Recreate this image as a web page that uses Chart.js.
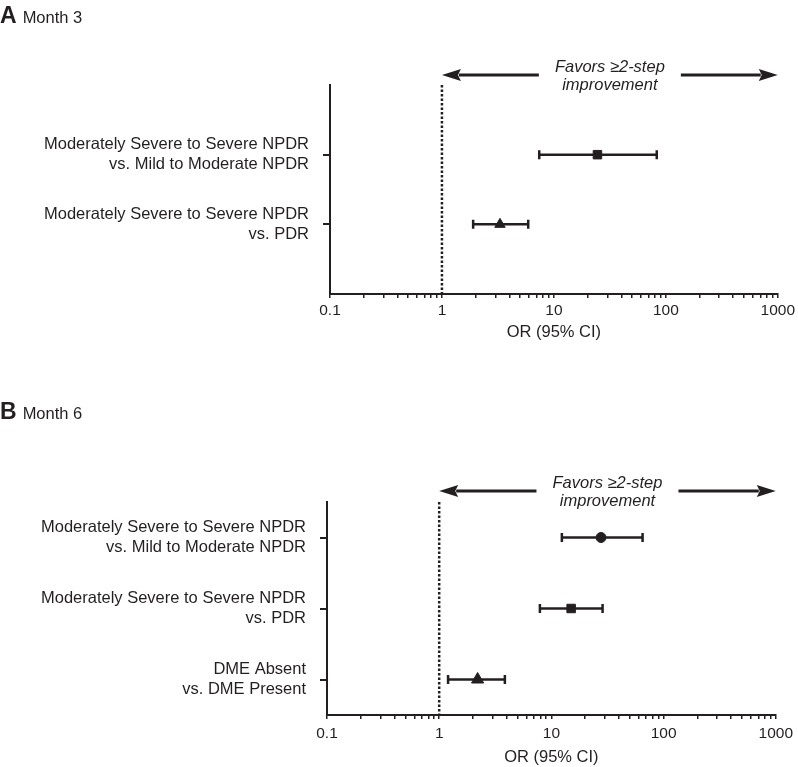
<!DOCTYPE html>
<html>
<head>
<meta charset="utf-8">
<script src="https://cdn.jsdelivr.net/npm/chart.js@4"></script>
<style>
  body { margin: 0; background: #fff; font-family: "Liberation Sans", Arial, sans-serif; color: #231f20; }
  #page { position: relative; width: 798px; height: 767px; overflow: hidden; }
  .box { position: absolute; left: 0; width: 798px; }
  .head { position: absolute; left: 0; font-size: 16.5px; line-height: 24px; white-space: nowrap; }
  .head b { font-size: 23px; margin-right: 6px; }
</style>
</head>
<body>
<div id="page">
  <div class="box" style="top:0;height:345px"><canvas id="chartA"></canvas></div>
  <div class="box" style="top:400px;height:367px"><canvas id="chartB"></canvas></div>
  <div class="head" style="top:3px"><b>A</b>Month 3</div>
  <div class="head" style="top:399px"><b>B</b>Month 6</div>
</div>
<script>
// axis ticks and texts
const xTicks = [0.1, 1, 10, 100, 1000];
const xTitle = 'OR (95% CI)';
const favorsText = ['Favors \u22652-step', 'improvement'];

// Month 3
const month3Labels = [
  ['Moderately Severe to Severe NPDR', 'vs. Mild to Moderate NPDR'],
  ['Moderately Severe to Severe NPDR', 'vs. PDR']
];
const month3OR = [24.5, 3.3];
const month3Low = [7.4, 1.9];
const month3High = [83, 5.9];
const month3Markers = ['rect', 'triangle'];

// Month 6
const month6Labels = [
  ['Moderately Severe to Severe NPDR', 'vs. Mild to Moderate NPDR'],
  ['Moderately Severe to Severe NPDR', 'vs. PDR'],
  ['DME Absent', 'vs. DME Present']
];
const month6OR = [27.7, 15.0, 2.2];
const month6Low = [12.4, 7.9, 1.2];
const month6High = [65, 28.6, 3.85];
const month6Markers = ['circle', 'rect', 'triangle'];

const ink = '#231f20';
const font = '"Liberation Sans", Arial, sans-serif';

// arrow with "Favors" text above the plot
const favorsArrow = {
  id: 'favorsArrow',
  afterDraw(chart, args, opts) {
    const { ctx, chartArea } = chart;
    const x = chart.scales.x;
    const y = chartArea.top - opts.offset;
    const x0 = x.getPixelForValue(1);
    const x1 = x.getPixelForValue(x.max);
    const mid = (x0 + x1) / 2;
    const gap = 71, head = 19, half = 6;
    ctx.save();
    ctx.strokeStyle = ink;
    ctx.fillStyle = ink;
    ctx.lineWidth = 3;
    ctx.beginPath();
    ctx.moveTo(x0 + head - 2, y);
    ctx.lineTo(mid - gap, y);
    ctx.moveTo(mid + gap, y);
    ctx.lineTo(x1 - head + 2, y);
    ctx.stroke();
    ctx.beginPath();
    ctx.moveTo(x0, y);
    ctx.lineTo(x0 + head, y - half);
    ctx.lineTo(x0 + head - 3, y);
    ctx.lineTo(x0 + head, y + half);
    ctx.closePath();
    ctx.moveTo(x1, y);
    ctx.lineTo(x1 - head, y - half);
    ctx.lineTo(x1 - head + 3, y);
    ctx.lineTo(x1 - head, y + half);
    ctx.closePath();
    ctx.fill();
    ctx.font = 'italic 16.5px ' + font;
    ctx.textAlign = 'center';
    ctx.textBaseline = 'middle';
    ctx.fillText(favorsText[0], mid, y - 8);
    ctx.fillText(favorsText[1], mid, y + 10);
    ctx.restore();
  }
};

function decadeTicks() {
  const out = [];
  for (let i = 0; i < xTicks.length; i++) {
    out.push({ value: xTicks[i], major: true });
    if (i < xTicks.length - 1) {
      for (let k = 2; k <= 9; k++) out.push({ value: xTicks[i] * k });
    }
  }
  return out;
}

function makeForest(id, labels, or, low, high, markers, lay) {
  const rows = labels.map((_, i) => i + 1);
  const datasets = [];
  // reference line at OR = 1
  datasets.push({
    data: [{ x: 1, y: lay.yMin }, { x: 1, y: lay.yMax }],
    showLine: true,
    borderColor: ink,
    borderWidth: 2.5,
    borderDash: [2.5, 2],
    pointRadius: 0
  });
  // confidence intervals
  rows.forEach((r, i) => {
    datasets.push({
      data: [{ x: low[i], y: r }, { x: high[i], y: r }],
      showLine: true,
      borderColor: ink,
      borderWidth: 2.5,
      pointStyle: 'line',
      rotation: 90,
      pointRadius: 4.5,
      pointBorderWidth: 2.5,
      pointBorderColor: ink
    });
  });
  // point estimates
  datasets.push({
    data: or.map((v, i) => ({ x: v, y: rows[i] })),
    pointStyle: markers,
    pointRadius: markers.map(m => m === 'rect' ? 6 : m === 'triangle' ? lay.tri : 5),
    backgroundColor: ink,
    borderColor: ink,
    borderWidth: 1
  });

  return new Chart(document.getElementById(id), {
    type: 'scatter',
    data: { datasets },
    plugins: [favorsArrow],
    options: {
      responsive: true,
      maintainAspectRatio: false,
      animation: false,
      layout: { padding: { top: lay.top, right: 20, left: 0, bottom: 0 } },
      plugins: {
        legend: { display: false },
        tooltip: { enabled: false },
        favorsArrow: { offset: lay.arrow }
      },
      scales: {
        x: {
          type: 'logarithmic',
          min: xTicks[0],
          max: xTicks[xTicks.length - 1],
          afterBuildTicks: axis => { axis.ticks = decadeTicks(); },
          afterFit: axis => { axis.height = lay.xH; },
          ticks: {
            autoSkip: false,
            maxRotation: 0,
            padding: lay.tickPad,
            color: ink,
            font: { family: font, size: 15.5 },
            callback: (v, i, t) => t[i].major ? String(v) : ''
          },
          grid: { drawOnChartArea: false, drawTicks: true, tickLength: 4, color: ink, lineWidth: 1.5 },
          border: { display: true, color: ink, width: 2 },
          title: {
            display: true,
            text: xTitle,
            color: ink,
            font: { family: font, size: 16.5 },
            padding: { top: 0, bottom: lay.titlePad }
          }
        },
        y: {
          type: 'linear',
          reverse: true,
          min: lay.yMin,
          max: lay.yMax,
          afterBuildTicks: axis => { axis.ticks = rows.map(v => ({ value: v })); },
          afterFit: axis => { axis.width = lay.yW; },
          ticks: {
            color: ink,
            padding: 14,
            font: { family: font, size: 16.5, lineHeight: 1.2 },
            callback: (v, i) => labels[i]
          },
          grid: { drawOnChartArea: false, drawTicks: true, tickLength: 7, color: ink, lineWidth: 2 },
          border: { display: true, color: ink, width: 2 }
        }
      }
    }
  });
}

makeForest('chartA', month3Labels, month3OR, month3Low, month3High, month3Markers,
  { top: 85, xH: 51, yW: 330, yMin: 0, yMax: 3, arrow: 10, tickPad: 3, titlePad: 3, tri: 6 });
makeForest('chartB', month6Labels, month6OR, month6Low, month6High, month6Markers,
  { top: 102, xH: 52, yW: 327, yMin: 0.5, yMax: 3.5, arrow: 11, tickPad: 5, titlePad: 0, tri: 7 });
</script>
</body>
</html>
